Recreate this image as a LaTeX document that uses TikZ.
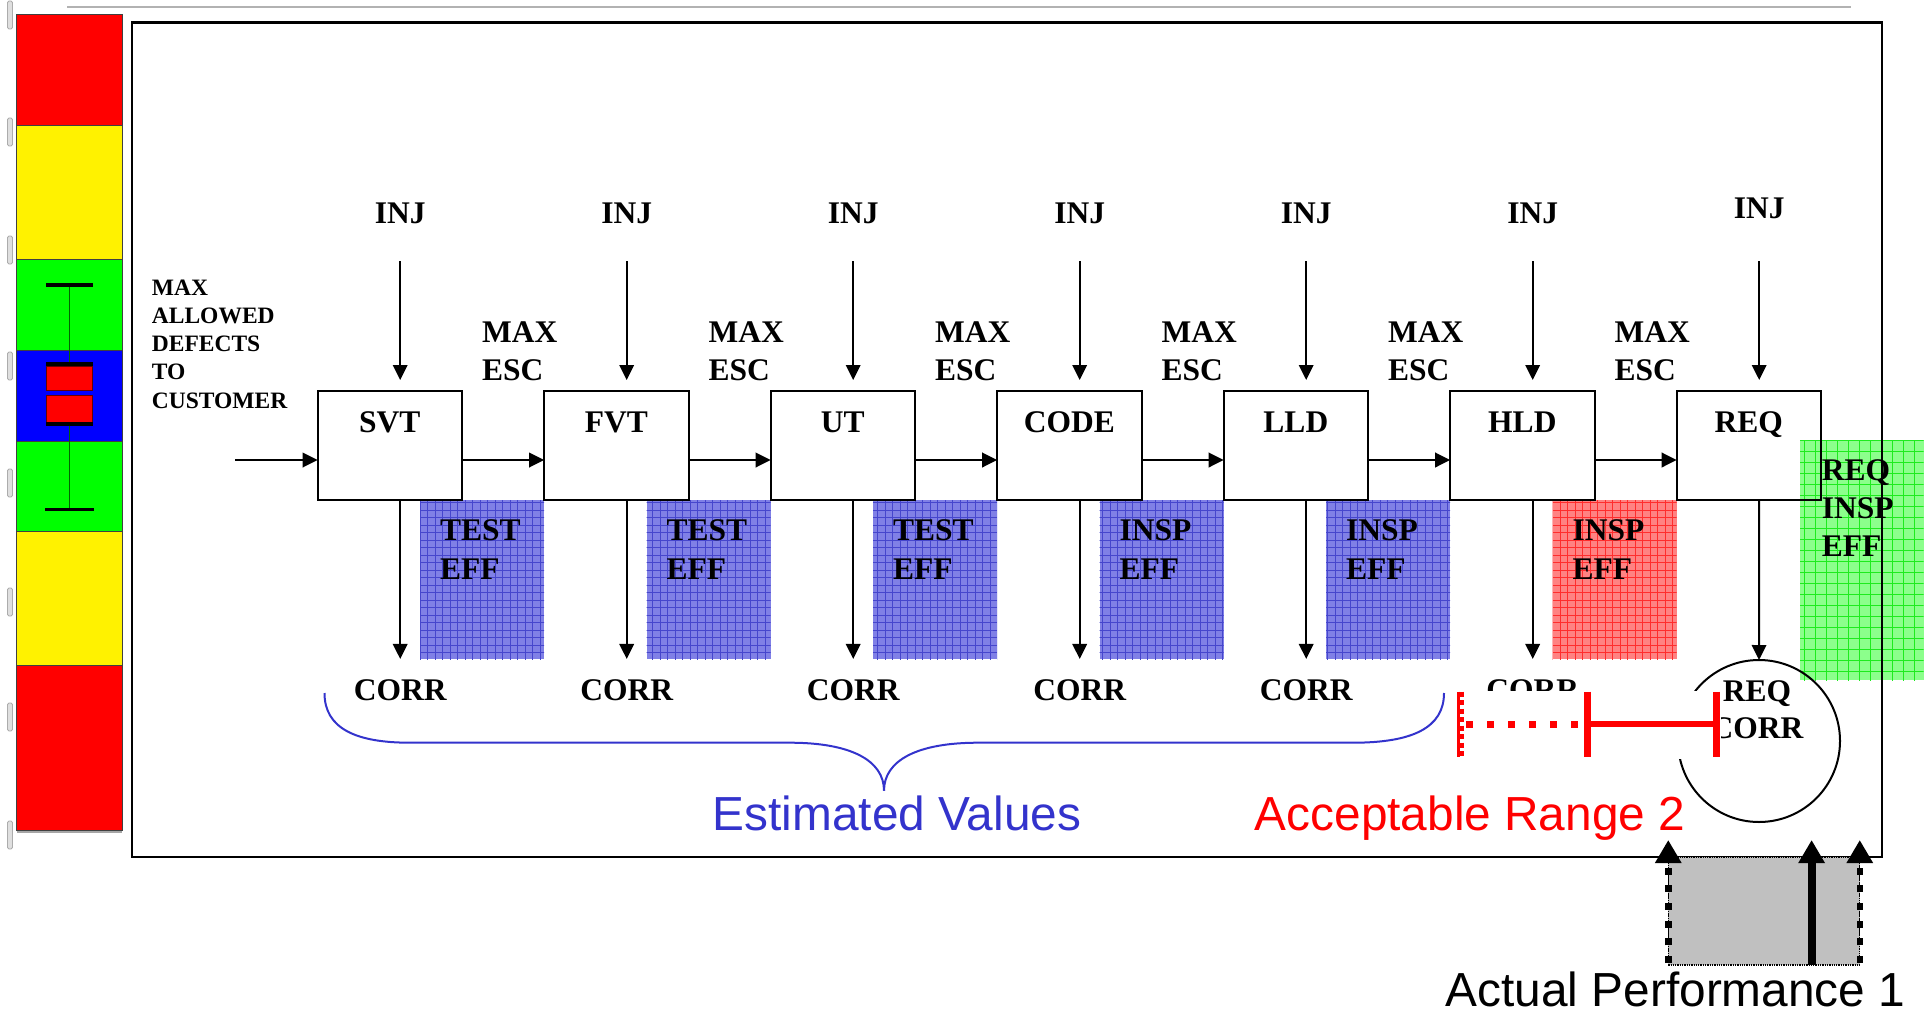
\documentclass[tikz,border=0pt]{standalone}
\usepackage{fontspec}
\setmainfont{Liberation Serif}
\newfontfamily\arialfont{Liberation Sans}
\usetikzlibrary{arrows.meta,calc}
\definecolor{effblue}{RGB}{128,128,230}
\definecolor{effblueline}{RGB}{70,70,205}
\definecolor{effred}{RGB}{255,130,130}
\definecolor{effredline}{RGB}{255,45,45}
\definecolor{effgreen}{RGB}{140,255,140}
\definecolor{effgreenline}{RGB}{30,235,30}
\definecolor{estblue}{RGB}{51,51,204}
\definecolor{perfgray}{RGB}{192,192,192}
\begin{document}
\begin{tikzpicture}[x=1pt,y=-1pt,
  lbl/.style={font=\fontsize{31.5}{37.3}\selectfont\bfseries, inner sep=0},
  efftxt/.style={font=\fontsize{31.5}{39}\selectfont\bfseries, inner sep=0, anchor=base west},
  procbox/.style={draw, line width=2pt, anchor=north, minimum width=144.3pt, inner sep=0, outer sep=0,
    text height=41.3pt, text depth=67.7pt, font=\fontsize{31.5}{37}\selectfont\bfseries},
  arr/.style={line width=2pt, -{Triangle[length=15pt,width=14.5pt]}},
  bigtxt/.style={font=\fontsize{47.8}{56}\selectfont\arialfont, inner sep=0},
  upthick/.style={-{Triangle[length=23pt,width=25pt]}},
  redbar/.style={red, line width=7pt},
]
\useasboundingbox (0,0) rectangle (1929,1011);

% top gray rule
\draw[gray!60, line width=2pt] (67,7) -- (1851,7);

% left colour bar
\fill[red] (16.7,14) rectangle (122,125.7);
\fill[yellow] (16.7,125.7) rectangle (122,259);
\fill[green] (16.7,259) rectangle (122,350);
\fill[blue] (16.7,350) rectangle (122,441.7);
\fill[green] (16.7,441.7) rectangle (122,531);
\fill[yellow] (16.7,531) rectangle (122,665);
\fill[red] (16.7,665) rectangle (122,830);
\foreach \yy in {125.7,259,350,441.7,531,665} {
  \draw[black!75, line width=0.8pt] (16.7,\yy) -- (122,\yy);
}
\draw[black!75, line width=0.8pt] (16.7,14) rectangle (122,830);
\draw[gray!70, line width=1.5pt] (16.7,832) -- (122,832);
% box plot in the bar
\draw[black!60!green, line width=1pt] (69.3,285) -- (69.3,509.3);
\fill[black] (46,283.3) rectangle (92.7,287);
\fill[black] (46,362.3) rectangle (92.7,366);
\fill[red] (46,366) rectangle (92.7,422);
\fill[blue] (46,390.7) rectangle (92.7,395);
\draw[black!60!red, line width=0.7pt] (46,366) rectangle (92.7,390.7);
\draw[black!60!red, line width=0.7pt] (46,395) rectangle (92.7,422);
\fill[black] (46,422) rectangle (92.7,425.5);
\fill[black] (45.3,507.5) rectangle (93.7,511);
% faint gray tick marks at far left
\foreach \yy in {15,132,250,366,483,602,717,835} {
  \draw[gray!65, fill=gray!25, line width=0.8pt, rounded corners=1.5pt] (7.5,\yy-14) rectangle (12.5,\yy+14);
}

% shaded effectiveness areas
\foreach \a/\b in {420/544.2, 646.5/770.7, 873/997.2, 1099.5/1223.7, 1326/1450.2} {
  \fill[effblue] (\a,500) rectangle (\b,659.3);
  \begin{scope}
    \clip (\a,500) rectangle (\b,659.3);
    \draw[effblueline, line width=1pt, step=7.5pt] (\a-10,490) grid (\b+10,670);
  \end{scope}
}
\fill[effred] (1552.5,500) rectangle (1676.7,659.3);
\begin{scope}
  \clip (1552.5,500) rectangle (1676.7,659.3);
  \draw[effredline, line width=1pt, step=7.5pt] (1540,490) grid (1690,670);
\end{scope}
\fill[effgreen] (1800,440) rectangle (1923.5,680);
\begin{scope}
  \clip (1800,440) rectangle (1923.5,680);
  \draw[effgreenline, line width=1pt, step=11pt] (1790,430) grid (1935,690);
\end{scope}

% outer frame
\draw[line width=2.5pt] (132,22.5) rectangle (1882,857);

% process boxes
\foreach \nm/\lab/\lx in {svt/SVT/317.7, fvt/FVT/544.2, ut/UT/770.7, code/CODE/997.2, lld/LLD/1223.7, hld/HLD/1450.2, req/REQ/1676.7} {
  \node[procbox] (\nm) at (\lx+72.15,391) {\lab};
}

% injection labels and arrows
\foreach \nm/\lx/\iy [count=\i from 0] in {svt/317.7/223.3, fvt/544.2/223.3, ut/770.7/223.3, code/997.2/223.3, lld/1223.7/223.3, hld/1450.2/223.3, req/1676.7/218.3} {
  \node[lbl, anchor=base] (inj\i) at (\lx+82.5,\iy) {INJ};
  \coordinate (injs\i) at (\lx+82.5,261);
  \draw[arr] (injs\i) -- ([xshift=10.35pt,yshift=11pt]\nm.north);
}

% flow arrows
\node[lbl, anchor=base west, font=\fontsize{23.5}{28.3}\selectfont\bfseries] (maxallowed) at (151.7,295)
  {\begin{tabular}[t]{@{}l@{}}MAX\\ALLOWED\\DEFECTS\\TO\\CUSTOMER\end{tabular}};
\coordinate (entry) at (235,460);
\draw[arr] (entry) -- ([yshift=40pt]svt.south west);
\foreach \a/\b in {svt/fvt, fvt/ut, ut/code, code/lld, lld/hld, hld/req} {
  \draw[arr] ([yshift=40pt]\a.south east) -- ([yshift=40pt]\b.south west);
}

% MAX ESC labels
\foreach \lx [count=\i from 0] in {317.7,544.2,770.7,997.2,1223.7,1450.2} {
  \node[lbl, anchor=base west] (esc\i) at (\lx+164.3,342.7) {\begin{tabular}[t]{@{}l@{}}MAX\\ESC\end{tabular}};
}

% effectiveness labels
\foreach \lx/\kind [count=\i from 0] in {317.7/TEST,544.2/TEST,770.7/TEST,997.2/INSP,1223.7/INSP,1450.2/INSP} {
  \node[efftxt] (eff\i) at (\lx+122.3,540) {\begin{tabular}[t]{@{}l@{}}\kind\\EFF\end{tabular}};
}
\node[efftxt, font=\fontsize{31.5}{38}\selectfont\bfseries] (reqeff) at (1821.7,480)
  {\begin{tabular}[t]{@{}l@{}}REQ\\INSP\\EFF\end{tabular}};

% correction arrows and labels
\foreach \nm/\lx [count=\i from 0] in {svt/317.7, fvt/544.2, ut/770.7, code/997.2, lld/1223.7, hld/1450.2} {
  \node[lbl, anchor=base] (corr\i) at (\lx+82.5,700) {CORR};
  \draw[arr] ([xshift=10.35pt]\nm.south) -- ([yshift=20pt]corr\i.north);
}
\node[draw, circle, line width=2pt, minimum size=162pt, inner sep=0, outer sep=0] (reqcorr) at (1759,741) {};
\node[lbl, anchor=base] (reqcorrlbl) at (1757,701) {\begin{tabular}[t]{@{}c@{}}REQ\\CORR\end{tabular}};
\draw[arr] ([xshift=10.35pt]req.south) -- (reqcorr.north);

% brace
\coordinate (brl) at (324.5,693);
\coordinate (brm) at (884,790.7);
\coordinate (brr) at (1444,693);
\draw[estblue, line width=2pt] (brl) .. controls (324.5,728) and (355,742.7) .. (410,742.7)
  -- (790,742.7) .. controls (850,742.7) and (884,760) .. (brm);
\draw[estblue, line width=2pt] (brm) .. controls (884,760) and (918,742.7) .. (978,742.7)
  -- (1353,742.7) .. controls (1412,742.7) and (1444,728) .. (brr);
\node[bigtxt, estblue, anchor=base] (estval) at (897,830.7) {Estimated Values};
\node[bigtxt, red, anchor=base] (accrange) at (1470,830.7) {Acceptable Range 2};

% range bar (with white backing)
\fill[white] (1452,690.5) rectangle (1721,759);
\coordinate (rl) at (1460,724);
\coordinate (rm) at (1587.3,724);
\coordinate (rr) at (1716,724);
\draw[red, line width=3.4pt] ([xshift=-1.7pt,yshift=32.5pt]rl) -- ([xshift=-1.7pt,yshift=-32.5pt]rl);
\draw[red, line width=7pt, dash pattern=on 5pt off 3.5pt] ([yshift=32.5pt]rl) -- ([yshift=-32.5pt]rl);
\draw[red, line width=7pt, dash pattern=on 7pt off 14pt] ([xshift=6pt]rl) -- (rm);
\draw[redbar] ([yshift=32.5pt]rm) -- ([yshift=-32.5pt]rm);
\draw[red, line width=6.5pt] (rm) -- (rr);
\draw[redbar] ([yshift=32.5pt]rr) -- ([yshift=-32.5pt]rr);

% actual performance
\node[fill=perfgray, draw, densely dotted, line width=1.3pt, minimum width=191.5pt, minimum height=108pt, inner sep=0, outer sep=0] (perf) at (1764,911) {};
\draw[line width=1.2pt, densely dotted] (perf.south west) -- (perf.north west);
\draw[line width=1.2pt, densely dotted] (perf.south east) -- (perf.north east);
\draw[upthick, line width=6.5pt, dash pattern=on 7pt off 10.7pt] ([yshift=2pt]perf.south west) -- ([yshift=17pt]perf.north west);
\draw[upthick, line width=6.5pt, dash pattern=on 7pt off 10.7pt] ([yshift=2pt]perf.south east) -- ([yshift=17pt]perf.north east);
\draw[upthick, line width=8pt] ([xshift=47.6pt]perf.south) -- ([xshift=47.6pt,yshift=17pt]perf.north);
\node[bigtxt, anchor=base west] (perflbl) at (1445.5,1006.7) {Actual Performance 1};
\end{tikzpicture}
\end{document}
